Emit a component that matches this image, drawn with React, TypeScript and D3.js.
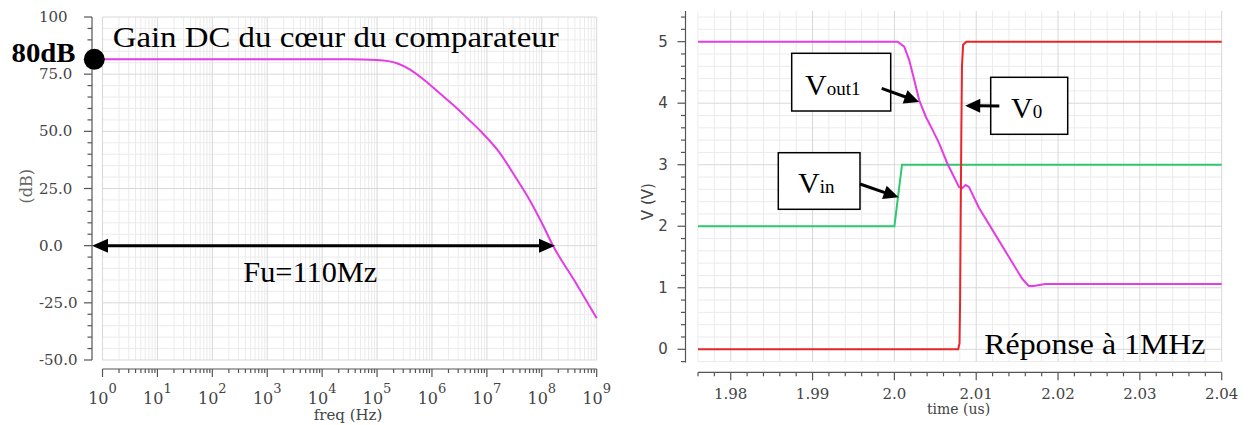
import React from 'react';
import * as d3 from 'd3';

// ---------- Left chart: gain (dB) vs frequency (Hz) ----------
const bodeFreqHz = [1, 10, 100, 1e3, 1e4, 3e4, 1e5, 1.6e5, 2.3e5, 4e5, 7.9e5, 1.4e6, 2.45e6, 4.5e6, 7.9e6, 1.74e7, 3.2e7, 6e7, 1.0e8, 1.6e8, 4e8, 1e9];
const bodeGainDb = [81.5, 81.5, 81.5, 81.5, 81.5, 81.5, 81.2, 80.7, 79.8, 77.0, 71.7, 66.5, 61.5, 55.5, 49.8, 40.4, 30.6, 20.0, 10.0, 0.0, -15.6, -31.7];
const gainTicks = [100, 75, 50, 25, 0, -25, -50];
const gainTickLabels = ['100', '75.0', '50.0', '25.0', '0.0', '-25.0', '-50.0'];
const freqExponents = [0, 1, 2, 3, 4, 5, 6, 7, 8, 9];

// ---------- Right chart: transient response ----------
const vinTime = [1.976, 2.0, 2.00093, 2.04];
const vinV = [2, 2, 3, 3];
const vout1Time = [1.976, 2.00039, 2.0012, 2.00181, 2.00242, 2.00303, 2.00384, 2.00465, 2.00546, 2.00647, 2.00729, 2.00789, 2.0083, 2.00871, 2.00911, 2.01033, 2.01276, 2.0156, 2.01641, 2.01702, 2.01844, 2.04];
const vout1V = [5.0, 5.0, 4.92, 4.7, 4.38, 4.05, 3.78, 3.57, 3.35, 3.02, 2.8, 2.64, 2.62, 2.67, 2.64, 2.3, 1.77, 1.15, 1.03, 1.03, 1.06, 1.06];
const v0Time = [1.976, 2.0078, 2.00796, 2.00803, 2.0081, 2.00818, 2.00826, 2.0084, 2.0088, 2.04];
const v0V = [0, 0, 0.1, 0.8, 2.1, 3.5, 4.6, 4.95, 5.0, 5.0];
const timeTicks = [1.98, 1.99, 2.0, 2.01, 2.02, 2.03, 2.04];
const timeTickLabels = ['1.98', '1.99', '2.0', '2.01', '2.02', '2.03', '2.04'];
const voltTicks = [0, 1, 2, 3, 4, 5];

const MAGENTA = '#e43de6';
const RED = '#e8262a';
const GREEN = '#2ec86f';
const GRID_MINOR = '#ebebeb';
const GRID_MAJOR = '#d8d8d8';
const AXIS = '#555';
const ANN_FONT = '"Liberation Serif", serif';
const TICK_FONT = '"DejaVu Serif", serif';

function Arrow({ x1, y1, x2, y2, len = 15, half = 7, sw = 3 }: any) {
  const a = Math.atan2(y2 - y1, x2 - x1);
  const bx = x2 - len * Math.cos(a);
  const by = y2 - len * Math.sin(a);
  const px = -Math.sin(a) * half;
  const py = Math.cos(a) * half;
  return (
    <g>
      <line x1={x1} y1={y1} x2={bx + Math.cos(a) * 2} y2={by + Math.sin(a) * 2} stroke="#000" strokeWidth={sw} />
      <polygon points={`${x2},${y2} ${bx + px},${by + py} ${bx - px},${by - py}`} fill="#000" />
    </g>
  );
}

export default function App() {
  // ----- left scales -----
  const lx = d3.scaleLog().domain([1, 1e9]).range([102.5, 596.7]);
  const ly = d3.scaleLinear().domain([-50, 100]).range([360, 17]);
  const bodeLine = d3
    .line<number>()
    .x((_, i) => lx(bodeFreqHz[i]))
    .y((d) => ly(d))
    .curve(d3.curveMonotoneX);

  const lVert: { f: number; major: boolean }[] = [];
  for (let e = 0; e < 9; e++) for (let m = 1; m <= 9; m++) lVert.push({ f: m * Math.pow(10, e), major: m === 1 });
  lVert.push({ f: 1e9, major: true });
  const lHoriz = d3.range(-50, 101, 5).map((v) => ({ v, major: v % 25 === 0 }));
  const lAxisX = 92;
  const lAxisY = 369;

  // ----- right scales -----
  const rx = d3.scaleLinear().domain([1.976, 2.04]).range([698, 1221.7]);
  const ry = d3.scaleLinear().domain([-0.2, 5.5]).range([361.6, 10.9]);
  const vLine = (ts: number[]) =>
    d3
      .line<number>()
      .x((_, i) => rx(ts[i]))
      .y((d) => ry(d))
      .curve(d3.curveLinear);
  const rVert = d3.range(0, 33).map((i) => {
    const t = 1.976 + i * 0.002;
    return { t, major: Math.round(t * 1000) % 10 === 0 };
  });
  const rHoriz = d3.range(0, 29).map((i) => {
    const v = -0.2 + i * 0.2;
    return { v, major: Math.abs(v - Math.round(v)) < 1e-6 };
  });
  const rAxisX = 685.5;
  const rAxisY = 372.3;

  return (
    <svg width={1251} height={425} style={{ position: 'absolute', left: 0, top: 0, background: '#fff' }}>
      <rect x={0} y={0} width={1251} height={425} fill="#fff" />

      {/* ===== LEFT CHART ===== */}
      <g>
        {lHoriz.filter((h) => !h.major).map((h, i) => (
          <line key={'lhm' + i} x1={lx(1)} x2={lx(1e9)} y1={ly(h.v)} y2={ly(h.v)} stroke={GRID_MINOR} strokeWidth={1} />
        ))}
        {lVert.filter((v) => !v.major).map((v, i) => (
          <line key={'lvm' + i} x1={lx(v.f)} x2={lx(v.f)} y1={ly(100)} y2={ly(-50)} stroke={GRID_MINOR} strokeWidth={1} />
        ))}
        {lHoriz.filter((h) => h.major).map((h, i) => (
          <line key={'lhM' + i} x1={lx(1)} x2={lx(1e9)} y1={ly(h.v)} y2={ly(h.v)} stroke={GRID_MAJOR} strokeWidth={1} />
        ))}
        {lVert.filter((v) => v.major).map((v, i) => (
          <line key={'lvM' + i} x1={lx(v.f)} x2={lx(v.f)} y1={ly(100)} y2={ly(-50)} stroke={GRID_MAJOR} strokeWidth={1} />
        ))}

        {/* y axis */}
        <line x1={lAxisX} x2={lAxisX} y1={ly(100)} y2={ly(-50)} stroke={AXIS} strokeWidth={1.2} />
        {lHoriz.map((h, i) => (
          <line key={'lyt' + i} x1={lAxisX - (h.major ? 8 : 4.5)} x2={lAxisX} y1={ly(h.v)} y2={ly(h.v)} stroke={AXIS} strokeWidth={1.2} />
        ))}
        {gainTicks.map((v, i) => (
          <text key={'lyl' + i} x={39} y={ly(v)} dominantBaseline="central" fontFamily={TICK_FONT} fontSize={15} fill="#444">
            {gainTickLabels[i]}
          </text>
        ))}
        <text transform={`translate(26,${ly(26)}) rotate(-90)`} textAnchor="middle" dominantBaseline="central" fontFamily={TICK_FONT} fontSize={16} fill="#666">
          (dB)
        </text>

        {/* x axis */}
        <line x1={lx(1)} x2={lx(1e9)} y1={lAxisY} y2={lAxisY} stroke={AXIS} strokeWidth={1.2} />
        {lVert.map((v, i) => (
          <line key={'lxt' + i} x1={lx(v.f)} x2={lx(v.f)} y1={lAxisY} y2={lAxisY + (v.major ? 8 : 4)} stroke={AXIS} strokeWidth={1.2} />
        ))}
        {freqExponents.map((e) => (
          <text key={'lxl' + e} x={lx(Math.pow(10, e))} y={404} textAnchor="middle" fontFamily={TICK_FONT} fontSize={16} fill="#444">
            <tspan>10</tspan>
            <tspan dy={-11} fontSize={13}>{e}</tspan>
          </text>
        ))}
        <text x={348} y={420} textAnchor="middle" fontFamily={TICK_FONT} fontSize={15} fill="#444">
          freq (Hz)
        </text>

        {/* curve */}
        <path d={bodeLine(bodeGainDb) || ''} fill="none" stroke={MAGENTA} strokeWidth={2} />

        {/* annotations */}
        <circle cx={94.3} cy={ly(bodeGainDb[0])} r={10.5} fill="#000" />
        <text x={11.5} y={61.5} fontFamily={ANN_FONT} fontWeight="bold" fontSize={28} textLength={64} lengthAdjust="spacingAndGlyphs" fill="#000">
          80dB
        </text>
        <text x={112.7} y={46.7} fontFamily={ANN_FONT} fontSize={29} textLength={446} lengthAdjust="spacingAndGlyphs" fill="#000">
          Gain DC du cœur du comparateur
        </text>
        <Arrow x1={300} y1={ly(0)} x2={lAxisX} y2={ly(0)} len={16} half={7} sw={3} />
        <Arrow x1={300} y1={ly(0)} x2={lx(1.6e8) + 2} y2={ly(0)} len={16} half={7} sw={3} />
        <text x={243.3} y={281.7} fontFamily={ANN_FONT} fontSize={29} textLength={134} lengthAdjust="spacingAndGlyphs" fill="#000">
          Fu=110Mz
        </text>
      </g>

      {/* ===== RIGHT CHART ===== */}
      <g>
        {rHoriz.filter((h) => !h.major).map((h, i) => (
          <line key={'rhm' + i} x1={rx(1.976)} x2={rx(2.04)} y1={ry(h.v)} y2={ry(h.v)} stroke={GRID_MINOR} strokeWidth={1} />
        ))}
        {rVert.filter((v) => !v.major).map((v, i) => (
          <line key={'rvm' + i} x1={rx(v.t)} x2={rx(v.t)} y1={ry(5.5)} y2={ry(-0.2)} stroke={GRID_MINOR} strokeWidth={1} />
        ))}
        {rHoriz.filter((h) => h.major).map((h, i) => (
          <line key={'rhM' + i} x1={rx(1.976)} x2={rx(2.04)} y1={ry(h.v)} y2={ry(h.v)} stroke={GRID_MAJOR} strokeWidth={1} />
        ))}
        {rVert.filter((v) => v.major).map((v, i) => (
          <line key={'rvM' + i} x1={rx(v.t)} x2={rx(v.t)} y1={ry(5.5)} y2={ry(-0.2)} stroke={GRID_MAJOR} strokeWidth={1} />
        ))}

        {/* y axis */}
        <line x1={rAxisX} x2={rAxisX} y1={ry(5.5)} y2={ry(-0.2) + 1} stroke={AXIS} strokeWidth={1.2} />
        {rHoriz.map((h, i) => (
          <line key={'ryt' + i} x1={rAxisX - (h.major ? 8 : 4.5)} x2={rAxisX} y1={ry(h.v)} y2={ry(h.v)} stroke={AXIS} strokeWidth={1.2} />
        ))}
        {voltTicks.map((v) => (
          <text key={'ryl' + v} x={663} y={ry(v)} textAnchor="middle" dominantBaseline="central" fontFamily='"DejaVu Sans", sans-serif' fontSize={15} fill="#444">
            {v}
          </text>
        ))}
        <text transform={`translate(648,${ry(2.4)}) rotate(-90)`} textAnchor="middle" dominantBaseline="central" fontFamily='"DejaVu Sans", sans-serif' fontSize={15} fill="#444">
          V (V)
        </text>

        {/* x axis */}
        <line x1={rx(1.976)} x2={rx(2.04)} y1={rAxisY} y2={rAxisY} stroke={AXIS} strokeWidth={1.2} />
        {rVert.map((v, i) => (
          <line key={'rxt' + i} x1={rx(v.t)} x2={rx(v.t)} y1={rAxisY} y2={rAxisY + (v.major ? 8 : 4)} stroke={AXIS} strokeWidth={1.2} />
        ))}
        {timeTicks.map((t, i) => (
          <text key={'rxl' + i} x={rx(t)} y={399} textAnchor="middle" fontFamily={TICK_FONT} fontSize={15} fill="#444">
            {timeTickLabels[i]}
          </text>
        ))}
        <text x={958.5} y={414} textAnchor="middle" fontFamily={TICK_FONT} fontSize={14} fill="#444">
          time (us)
        </text>

        {/* curves */}
        <path d={vLine(vinTime)(vinV) || ''} fill="none" stroke={GREEN} strokeWidth={2} />
        <path d={vLine(vout1Time)(vout1V) || ''} fill="none" stroke={MAGENTA} strokeWidth={2} />
        <path d={vLine(v0Time)(v0V) || ''} fill="none" stroke={RED} strokeWidth={2} />

        {/* annotations */}
        <rect x={791.7} y={53.3} width={99} height={57.7} fill="#fff" stroke="#000" strokeWidth={1.5} />
        <text x={805} y={95} fontFamily={ANN_FONT} fontSize={30} fill="#000">
          V<tspan fontSize={19}>out1</tspan>
        </text>
        <Arrow x1={881.7} y1={88.3} x2={rx(2.00303)} y2={ry(4.02)} len={15} half={7} sw={3} />

        <rect x={778.3} y={152.7} width={81.7} height={56.6} fill="#fff" stroke="#000" strokeWidth={1.5} />
        <text x={798} y={193.3} fontFamily={ANN_FONT} fontSize={30} fill="#000">
          V<tspan fontSize={19}>in</tspan>
        </text>
        <Arrow x1={860} y1={184} x2={rx(2.00051)} y2={ry(2.47)} len={15} half={7} sw={3} />

        <rect x={990.7} y={77.3} width={77} height={57} fill="#fff" stroke="#000" strokeWidth={1.5} />
        <text x={1011} y={118.3} fontFamily={ANN_FONT} fontSize={30} fill="#000">
          V<tspan fontSize={19}>0</tspan>
        </text>
        <Arrow x1={999.3} y1={106} x2={rx(2.00866)} y2={ry(3.96)} len={15} half={7} sw={3} />

        <text x={984.3} y={354} fontFamily={ANN_FONT} fontSize={29} textLength={221} lengthAdjust="spacingAndGlyphs" fill="#000">
          Réponse à 1MHz
        </text>
      </g>
    </svg>
  );
}
